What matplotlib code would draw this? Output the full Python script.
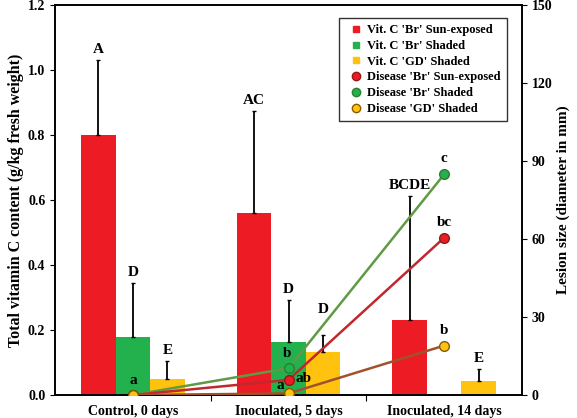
import matplotlib
matplotlib.use("Agg")
import matplotlib.pyplot as plt
import numpy as np
from matplotlib.lines import Line2D

plt.rcParams['font.family'] = ['Liberation Serif', 'DejaVu Serif']
plt.rcParams['font.weight'] = 'bold'

# data
groups = ["Control, 0 days", "Inoculated, 5 days", "Inoculated, 14 days"]

# vitamin C bars (g/kg) and top of error bar
vitc_br_sun = [0.80, 0.56, 0.23]
vitc_br_sun_top = [1.03, 0.875, 0.613]
vitc_br_shade = [0.178, 0.163, np.nan]
vitc_br_shade_top = [0.345, 0.293, np.nan]
vitc_gd_shade = [0.049, 0.133, 0.042]
vitc_gd_shade_top = [0.106, 0.185, 0.080]

sun_letters = ["A", "AC", "BCDE"]
shade_letters = ["D", "D", ""]
gd_letters = ["E", "D", "E"]

# lesion size (mm)
dis_br_sun = [0, 5.8, 60.5]
dis_br_shade = [0, 10.3, 84.9]
dis_gd_shade = [0, 0.6, 19.0]
dis_sun_letters = ["", "ab", "bc"]
dis_shade_letters = ["", "b", "c"]
dis_gd_letters = ["a", "a", "b"]

red = "#ed1c24"
green = "#22b14c"
yellow = "#ffc20e"

fig = plt.figure(figsize=(5.77, 4.18), dpi=100)
ax = fig.add_axes([0.0953, 0.055, 0.8094, 0.933])
ax2 = ax.twinx()

x = np.arange(len(groups))
w = 0.222

# extra lift for a few letters (the yellow 'D' at 5 days sits higher)
bar_sets = [
    (vitc_br_sun, vitc_br_sun_top, sun_letters, red, -w, [0, 0, 0]),
    (vitc_br_shade, vitc_br_shade_top, shade_letters, green, 0, [0, 0, 0]),
    (vitc_gd_shade, vitc_gd_shade_top, gd_letters, yellow, w, [0, 0.045, 0]),
]
for vals, tops, letters, col, off, lift in bar_sets:
    vals = np.array(vals, dtype=float)
    tops = np.array(tops, dtype=float)
    ax.bar(x + off, vals, width=w, color=col, zorder=2)
    err = tops - vals
    ax.errorbar(x + off, vals, yerr=[np.zeros_like(err), err], fmt="none",
                ecolor="black", elinewidth=1.3, capsize=1.5, zorder=3)
    for xi, t, lab, l in zip(x + off, tops, letters, lift):
        if lab and not np.isnan(t):
            ax.text(xi, t + 0.012 + l, lab, ha="center", va="bottom",
                    fontsize=11, fontweight="bold")

ax.set_xlim(-0.5, 2.5)
ax.set_ylim(0, 1.2)
ax.set_yticks(np.arange(0, 1.21, 0.2))
ax.set_yticklabels(["%.1f" % v for v in np.arange(0, 1.21, 0.2)])
ax.set_xticks([0.5, 1.5])
ax.set_xticklabels([])
ax.set_xticks(x, minor=True)
ax.set_xticklabels(groups, minor=True)
ax.tick_params(axis="x", which="minor", length=0, pad=7)
ax.tick_params(axis="x", which="major", length=4, direction="out")
ax.tick_params(axis="both", which="both", labelsize=10)
ax.set_ylabel("Total vitamin C content (g/kg fresh weight)", fontsize=11.5,
              fontweight="bold", labelpad=3)

# disease lines on the right axis
line_sets = [
    (dis_br_shade, "#5f9a45", green, "#2e7d32"),
    (dis_br_sun, "#c1272d", red, "#8b1a1a"),
    (dis_gd_shade, "#a0522d", yellow, "#8a5a00"),
]
for vals, lcol, mcol, ecol in line_sets:
    ax2.plot(x, vals, color=lcol, lw=1.8, marker="o", ms=7,
             markerfacecolor=mcol, markeredgecolor=ecol, markeredgewidth=1,
             zorder=4)

# lowercase letters
ax2.text(0, 3, "a", ha="center", va="bottom", fontsize=11, fontweight="bold")
ax2.text(0.99, 13.5, "b", ha="center", va="bottom", fontsize=11, fontweight="bold")
ax2.text(1.045, 6.3, "ab", ha="left", va="center", fontsize=11, fontweight="bold")
ax2.text(0.975, 1.2, "a", ha="right", va="bottom", fontsize=11, fontweight="bold")
for vals, letters in [(dis_br_shade, dis_shade_letters),
                      (dis_br_sun, dis_sun_letters),
                      (dis_gd_shade, dis_gd_letters)]:
    ax2.text(2, vals[2] + 3.5, letters[2], ha="center", va="bottom",
             fontsize=11, fontweight="bold")

ax2.set_ylim(0, 150)
ax2.set_yticks(np.arange(0, 151, 30))
ax2.tick_params(axis="y", labelsize=10)
ax2.set_ylabel("Lesion size (diameter in mm)", fontsize=11, fontweight="bold",
               labelpad=3)

for a in (ax, ax2):
    for s in a.spines.values():
        s.set_linewidth(1.2)

handles = [
    Line2D([], [], ls="none", marker="s", ms=5, color=red),
    Line2D([], [], ls="none", marker="s", ms=5, color=green),
    Line2D([], [], ls="none", marker="s", ms=5, color=yellow),
    Line2D([], [], ls="none", marker="o", ms=6, markerfacecolor=red, markeredgecolor="#8b1a1a"),
    Line2D([], [], ls="none", marker="o", ms=6, markerfacecolor=green, markeredgecolor="#2e7d32"),
    Line2D([], [], ls="none", marker="o", ms=6, markerfacecolor=yellow, markeredgecolor="#8a5a00"),
]
labels = ["Vit. C 'Br' Sun-exposed", "Vit. C 'Br' Shaded", "Vit. C 'GD' Shaded",
          "Disease 'Br' Sun-exposed", "Disease 'Br' Shaded", "Disease 'GD' Shaded"]
leg = ax2.legend(handles, labels, loc="upper right", bbox_to_anchor=(0.967, 0.967),
                 fontsize=9, frameon=True, fancybox=False, edgecolor="black",
                 handlelength=1.6, handletextpad=0.1, labelspacing=0.3,
                 borderpad=0.5, borderaxespad=0)
leg.get_frame().set_linewidth(1.0)

fig.savefig("out.png", dpi=100)
